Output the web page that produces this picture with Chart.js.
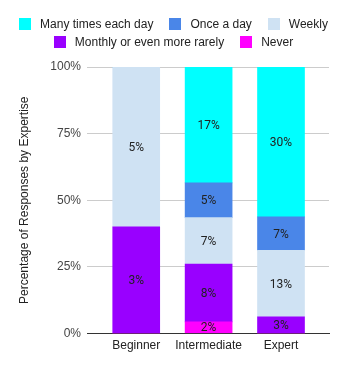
<!DOCTYPE html>
<html>
<head>
<meta charset="utf-8">
<script src="https://cdn.jsdelivr.net/npm/chart.js@4/dist/chart.umd.min.js"></script>
<style>
    html, body { margin: 0; padding: 0; background: #fff; }
    #wrap { position: relative; width: 347px; height: 371px; }
    #legend {
        position: absolute; top: 15px; left: 0; width: 347px;
        display: flex; flex-wrap: wrap; justify-content: center; column-gap: 16px;
        font: 12px "Liberation Sans", Arial, sans-serif; color: #222; line-height: 18px;
    }
    #legend .item { display: flex; align-items: center; white-space: nowrap; }
    #legend .box { width: 12px; height: 12px; margin-right: 9px; }
</style>
</head>
<body>
<div id="wrap">
    <canvas id="chart" width="347" height="371"></canvas>
    <div id="legend"></div>
</div>
<script>
    // 데이터 (응답 수)
    const expertise = ['Beginner', 'Intermediate', 'Expert'];
    const manyTimes = [0, 10, 18];
    const onceADay = [0, 3, 4];
    const weekly = [3, 4, 8];
    const monthly = [2, 5, 2];
    const never = [0, 1, 0];
    const yTicks = [0, 25, 50, 75, 100];

    // 색상
    const cyan = '#00ffff';
    const blue = '#4a86e8';
    const lightBlue = '#cfe2f3';
    const purple = '#9900ff';
    const magenta = '#ff00ff';

    // 아래에서 위로 쌓이는 순서
    const series = [
        { name: 'Never', counts: never, color: magenta },
        { name: 'Monthly or even more rarely', counts: monthly, color: purple },
        { name: 'Weekly', counts: weekly, color: lightBlue },
        { name: 'Once a day', counts: onceADay, color: blue },
        { name: 'Many times each day', counts: manyTimes, color: cyan }
    ];

    const groupTotals = expertise.map((_, i) => series.reduce((s, d) => s + d.counts[i], 0));
    const grandTotal = groupTotals.reduce((a, b) => a + b, 0);

    // 범례 (위 순서대로)
    const legendEl = document.getElementById('legend');
    series.slice().reverse().forEach(s => {
        const item = document.createElement('div');
        item.className = 'item';
        const box = document.createElement('span');
        box.className = 'box';
        box.style.background = s.color;
        item.appendChild(box);
        item.appendChild(document.createTextNode(s.name));
        legendEl.appendChild(item);
    });

    // 막대 안 퍼센트 라벨
    const valueLabels = {
        id: 'valueLabels',
        afterDatasetsDraw(chart) {
            const ctx = chart.ctx;
            ctx.save();
            ctx.font = '12px Roboto, sans-serif';
            ctx.fillStyle = '#222';
            ctx.textAlign = 'center';
            ctx.textBaseline = 'middle';
            series.forEach((s, di) => {
                chart.getDatasetMeta(di).data.forEach((bar, i) => {
                    if (s.counts[i] > 0) {
                        const pct = Math.round(s.counts[i] / grandTotal * 100) + '%';
                        ctx.fillText(pct, bar.x, (bar.y + bar.base) / 2 + 1);
                    }
                });
            });
            ctx.restore();
        }
    };

    new Chart(document.getElementById('chart'), {
        type: 'bar',
        data: {
            datasets: series.map(s => ({
                label: s.name,
                data: s.counts.map((c, i) => ({ x: i, y: c / groupTotals[i] * 100 })),
                backgroundColor: s.color,
                borderWidth: 0,
                barThickness: 47
            }))
        },
        options: {
            responsive: false,
            animation: false,
            layout: { padding: { top: 67, right: 18, bottom: 17.5, left: 0 } },
            plugins: {
                legend: { display: false },
                tooltip: { enabled: false }
            },
            scales: {
                x: {
                    type: 'linear',
                    stacked: true,
                    offset: false,
                    min: -0.68,
                    max: 2.663,
                    grid: { display: false, drawTicks: false },
                    border: { display: true, color: '#333', width: 1 },
                    afterFit: scale => { scale.height = 20; },
                    afterBuildTicks: scale => { scale.ticks = expertise.map((_, i) => ({ value: i })); },
                    ticks: {
                        autoSkip: false,
                        maxRotation: 0,
                        padding: 5,
                        color: '#222',
                        font: { family: '"Liberation Sans", Arial, sans-serif', size: 12 },
                        callback: v => expertise[v] ?? ''
                    }
                },
                y: {
                    stacked: true,
                    min: 0,
                    max: 100,
                    afterFit: scale => { scale.width = 87; },
                    afterBuildTicks: scale => { scale.ticks = yTicks.map(v => ({ value: v })); },
                    grid: { color: '#cccccc', drawTicks: false },
                    border: { display: false },
                    ticks: {
                        padding: 6,
                        color: '#444',
                        font: { family: '"Liberation Sans", Arial, sans-serif', size: 12 },
                        callback: v => v + '%'
                    },
                    title: {
                        display: true,
                        text: 'Percentage of Responses by Expertise',
                        color: '#222',
                        padding: { top: 17, bottom: 0 },
                        font: { family: '"Liberation Sans", Arial, sans-serif', size: 12 }
                    }
                }
            }
        },
        plugins: [valueLabels]
    });
</script>
</body>
</html>
